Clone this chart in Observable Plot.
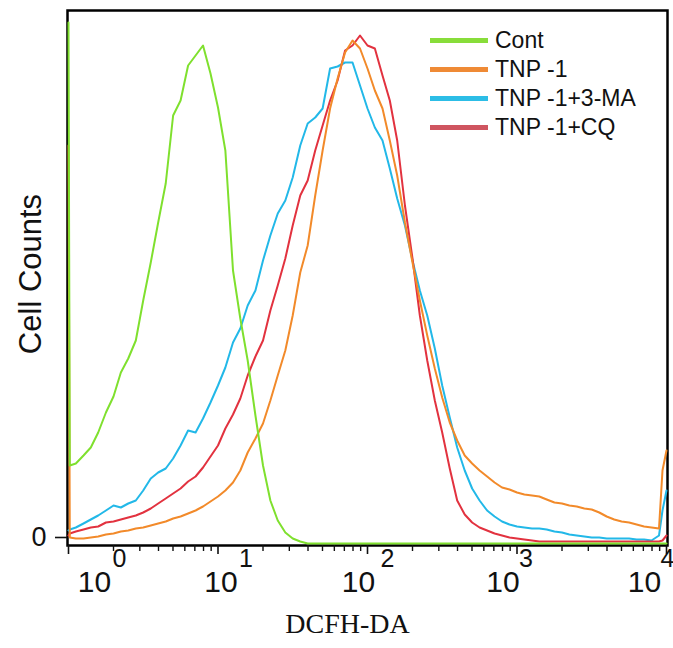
<!DOCTYPE html>
<html>
<head>
<meta charset="utf-8">
<script src="https://cdn.jsdelivr.net/npm/d3@7"></script>
<script src="https://cdn.jsdelivr.net/npm/@observablehq/plot@0.6"></script>
<style>
  html, body { margin: 0; padding: 0; background: #fff; }
  #wrap { position: relative; width: 673px; height: 648px; }
  #legend { position: absolute; left: 430px; top: 26px; font-family: "Liberation Sans", Arial, sans-serif; font-size: 23px; color: #111; }
  .row { display: flex; align-items: center; height: 29px; }
  .sw { width: 58px; height: 5px; margin-right: 7px; }
</style>
</head>
<body>
<div id="wrap"><div id="legend"></div></div>
<script>
// Fluorescence intensity (DCFH-DA), log-spaced channels
const intensity = [1, 1.02, 1.12, 1.26, 1.41, 1.58, 1.78, 2, 2.24, 2.51, 2.82, 3.16, 3.55, 3.98, 4.47, 5.01, 5.62, 6.31, 7.08, 7.94, 8.91,
  10, 11.2, 12.6, 14.1, 15.8, 17.8, 20, 22.4, 25.1, 28.2, 31.6, 35.5, 39.8, 44.7, 50.1, 56.2, 63.1, 70.8, 79.4, 89.1,
  100, 112, 126, 141, 158, 178, 200, 224, 251, 282, 316, 355, 398, 447, 501, 562, 631, 708, 794, 891,
  1000, 1120, 1260, 1410, 1580, 1780, 2000, 2240, 2510, 2820, 3160, 3550, 3980, 4470, 5010, 5620, 6310, 7080, 7940, 8910, 9400, 10000];

const seriesNames = ["Cont", "TNP -1", "TNP -1+3-MA", "TNP -1+CQ"];
const seriesColors = ["#7fe02e", "#f28a2a", "#22b8e8", "#e2323f"];
const legendColors = ["#88dd3a", "#ef8a35", "#2cbde6", "#cf5560"];

const cont = [523, 80, 82, 90, 98, 113, 133, 149, 173, 187, 205, 245, 283, 323, 362, 430, 445, 480, 490, 500, 472,
  438, 395, 275, 227, 185, 130, 80, 45, 25, 13, 7, 4, 2, 2, 2, 2, 2, 2, 2, 2,
  2, 2, 2, 2, 2, 2, 2, 2, 2, 2, 2, 2, 2, 2, 2, 2, 2, 2, 2, 2,
  2, 2, 2, 2, 2, 2, 2, 2, 2, 2, 2, 2, 2, 2, 2, 2, 2, 2, 2, 2, 2, 2];

const tnp = [400, 8, 7, 7, 8, 9, 11, 12, 14, 15, 17, 18, 20, 22, 24, 27, 29, 32, 35, 39, 44,
  49, 55, 63, 75, 93, 107, 122, 145, 170, 195, 230, 273, 300, 350, 395, 437, 467, 493, 505, 497,
  477, 455, 437, 405, 370, 323, 283, 245, 210, 177, 148, 123, 105, 90, 82, 75, 69, 63, 58, 56,
  53, 51, 50, 49, 46, 43, 42, 40, 39, 37, 36, 33, 29, 26, 24, 23, 21, 19, 18, 17, 75, 95];

const tnpMA = [15, 16, 18, 22, 26, 30, 35, 40, 38, 42, 45, 55, 67, 73, 77, 87, 100, 115, 113, 127, 143,
  160, 178, 203, 217, 240, 255, 285, 310, 332, 345, 368, 400, 422, 428, 437, 477, 479, 483, 483, 460,
  437, 418, 405, 377, 347, 320, 285, 255, 230, 197, 160, 128, 98, 75, 57, 45, 35, 29, 24, 21,
  19, 18, 17, 17, 16, 14, 13, 11, 10, 9, 8, 8, 7, 7, 7, 7, 6, 6, 5, 10, 35, 55];

const tnpCQ = [10, 12, 14, 16, 18, 19, 23, 24, 26, 28, 30, 33, 37, 42, 47, 52, 57, 64, 69, 78, 89,
  100, 117, 131, 147, 170, 189, 205, 235, 260, 287, 320, 350, 365, 395, 420, 445, 465, 495, 500, 510,
  500, 497, 470, 445, 405, 340, 287, 230, 185, 145, 113, 77, 45, 31, 23, 18, 15, 12, 10, 8,
  7, 6, 5, 4, 4, 4, 4, 4, 4, 4, 4, 4, 4, 4, 4, 4, 4, 4, 4, 4, 5, 10];

const majorTicks = [1, 10, 100, 1000, 10000];
const tickExponents = ["0", "1", "2", "3", "4"];
const minorTicks = [2, 3, 4, 5, 6, 7, 8, 9, 20, 30, 40, 50, 60, 70, 80, 90,
  200, 300, 400, 500, 600, 700, 800, 900, 2000, 3000, 4000, 5000, 6000, 7000, 8000, 9000];
const yTicks = [0];

// layout (label nudges, px)
const baseShift = [26, 3, -9, -14, -22];
const expShift = [51, 28, 20, 9, 1];

const font = '"Liberation Sans", Arial, sans-serif';

function rows(vals) { return intensity.map((x, i) => ({x, y: vals[i]})); }

const lineOpts = {x: "x", y: "y", strokeWidth: 2, strokeLinejoin: "round"};

const labelMarks = [];
majorTicks.forEach((t, i) => {
  labelMarks.push(Plot.text([t], {x: d => d, text: () => "10", frameAnchor: "bottom", dy: 46, dx: baseShift[i], fontSize: 30, fill: "#111"}));
  labelMarks.push(Plot.text([t], {x: d => d, text: () => tickExponents[i], frameAnchor: "bottom", dy: 21, dx: expShift[i], fontSize: 25, fill: "#111"}));
});

const chart = Plot.plot({
  width: 673,
  height: 648,
  marginLeft: 67,
  marginRight: 6,
  marginTop: 10,
  marginBottom: 103,
  style: {fontFamily: font, background: "#fff", color: "#111"},
  x: {type: "log", domain: [1, 10000], insetLeft: 1, insetRight: 1},
  y: {domain: [0, 535]},
  marks: [
    Plot.frame({stroke: "#000", strokeWidth: 2.5}),
    Plot.axisX({ticks: majorTicks, tickSize: 9, tickFormat: () => "", label: null, strokeWidth: 1.6}),
    Plot.axisX({ticks: minorTicks, tickSize: 6, tickFormat: () => "", label: null, strokeWidth: 1.4}),
    Plot.axisY({ticks: yTicks, tickSize: 12, tickPadding: 9, tickFormat: () => "0", fontSize: 27, dy: -8, label: null, strokeWidth: 1.6}),
    Plot.line(rows(tnpMA), {...lineOpts, stroke: seriesColors[2]}),
    Plot.line(rows(tnpCQ), {...lineOpts, stroke: seriesColors[3]}),
    Plot.line(rows(tnp), {...lineOpts, stroke: seriesColors[1]}),
    Plot.line(rows(cont), {...lineOpts, stroke: seriesColors[0]}),
    ...labelMarks,
    Plot.text(["Cell Counts"], {text: d => d, frameAnchor: "left", textAnchor: "middle", rotate: -90, dx: -36, dy: -4, fontSize: 31, fill: "#111"}),
    Plot.text(["DCFH-DA"], {text: d => d, frameAnchor: "bottom", dy: 87, dx: -20, fontSize: 28, fontFamily: '"Liberation Serif", "Times New Roman", serif', fill: "#111"})
  ]
});

const wrap = document.getElementById("wrap");
wrap.insertBefore(chart, wrap.firstChild);

const legend = document.getElementById("legend");
seriesNames.forEach((name, i) => {
  const row = document.createElement("div");
  row.className = "row";
  const sw = document.createElement("div");
  sw.className = "sw";
  sw.style.background = legendColors[i];
  const label = document.createElement("span");
  label.textContent = name;
  row.appendChild(sw);
  row.appendChild(label);
  legend.appendChild(row);
});
</script>
</body>
</html>
